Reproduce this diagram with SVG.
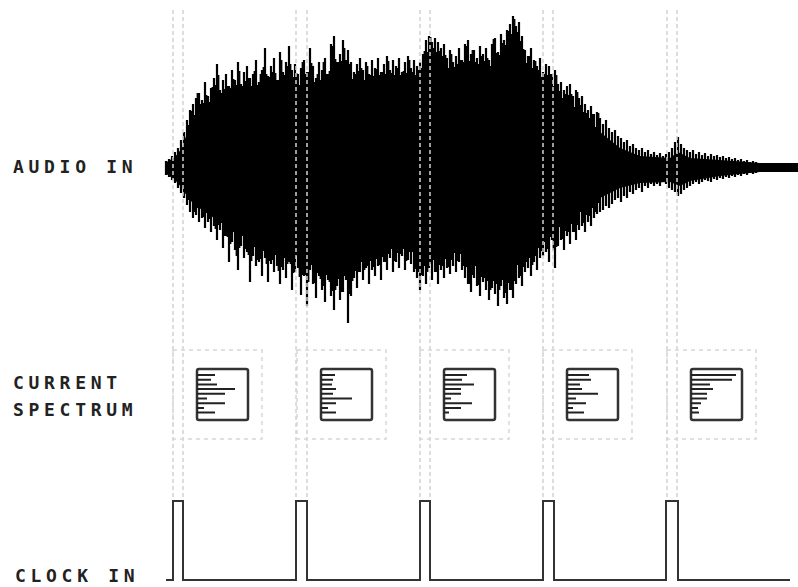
<svg xmlns="http://www.w3.org/2000/svg" width="798" height="587" viewBox="0 0 798 587">
<style>
.lbl{font-family:"DejaVu Sans Mono","Liberation Mono",monospace;font-weight:bold;font-size:18px;letter-spacing:4.7px;fill:#222}
.guide{stroke:#d2d2d2;stroke-width:1.5;stroke-dasharray:4 3;fill:none}
.dbox{stroke:#d8d8d8;stroke-width:1.5;stroke-dasharray:4 4;fill:none}
.sbox{stroke:#333;stroke-width:2.5;fill:#fff}
.bar{stroke:#222;stroke-width:2}
.spk{stroke:#000;stroke-width:2.2;fill:none}
.spk2{stroke:#000;stroke-width:1.8;fill:none}
</style>
<defs>
<rect id="sb" x="0" y="0" width="51" height="51" rx="2" class="sbox"/>
</defs>
<rect width="798" height="587" fill="#fff"/>
<g id="labels">
<text class="lbl" x="13" y="173">AUDIO IN</text>
<text class="lbl" x="13" y="389">CURRENT</text>
<text class="lbl" x="13" y="416">SPECTRUM</text>
<text class="lbl" x="15" y="582">CLOCK IN</text>
</g>
<g id="waveform">
<polygon fill="#000" points="165,163 175,157 182,148 188,130 195,115 205,105 220,100 240,98 260,95 280,90 300,92 320,95 340,88 360,88 380,90 400,88 420,85 430,70 445,70 460,78 480,72 500,68 515,55 525,68 540,88 560,108 580,118 600,132 620,148 640,156 670,158 678,152 690,158 720,160 760,163 798,163 798,172 760,172 720,176 690,181 680,186 670,182 640,183 620,188 600,198 580,210 560,225 540,240 520,252 500,258 480,256 460,250 440,252 420,248 400,242 380,246 360,252 340,258 320,255 300,250 280,246 260,240 240,232 220,222 205,212 195,205 188,198 182,188 175,180 165,173"/>
<path class="spk" d="M166 161V175M169 159V177M172 156V180M175 152V183M178 148V188M181 140V193M184 132V198M187 120V205M190 110V212M193 104V218M196 98V215M199 93V222M202 100V218M205 82V228M208 96V222M211 88V232M214 78V226M217 64V240M220 90V230M223 80V248M226 74V236M229 86V262M232 70V242M235 80V250M238 62V270M241 84V246M244 72V258M247 66V252M250 78V282M253 74V256M256 60V266M259 82V262M262 70V276M265 48V258M268 76V282M271 66V264M274 58V272M277 80V266M280 52V284M283 72V270M286 62V278M289 46V262M292 70V290M295 64V272M298 74V268M301 68V295M304 60V276M307 72V306M310 48V270M313 66V284M316 78V298M319 62V276M322 70V290M325 58V302M328 74V280M331 44V296M334 36V310M337 62V286M340 54V300M343 40V292M346 60V280M348 50V323M351 62V296M354 72V278M357 64V288M360 58V272M363 70V280M366 62V268M369 74V284M372 60V270M375 68V276M378 58V266M381 72V280M384 64V262M387 56V270M390 70V258M393 60V272M396 66V262M399 58V268M402 72V256M405 62V270M408 56V260M411 68V264M414 60V272M417 66V278M420 62V290M423 54V276M426 40V284M429 36V268M432 42V280M435 38V272M438 42V284M441 48V270M444 44V278M447 58V268M450 50V274M453 62V266M456 56V272M459 48V262M462 60V270M465 44V278M468 40V284M471 54V292M474 50V278M477 58V286M480 46V296M483 54V282M486 48V290M489 60V300M492 44V288M495 38V294M498 52V306M501 34V286M504 40V298M507 30V304M510 24V290M513 16V298M516 26V284M519 22V278M522 36V286M525 50V272M528 56V268M531 48V276M534 60V262M537 66V270M540 58V258M543 72V256M546 64V252M549 66V262M552 74V240M555 70V268M558 84V246M561 82V240M564 90V250M567 86V236M570 84V244M573 96V232M576 90V240M579 98V230M582 96V226M585 104V232M588 110V222M591 106V226M594 114V218M597 112V214M600 118V212M603 124V210M606 120V206M609 128V208M612 132V204M615 130V200M618 136V198M621 138V202M624 142V196M627 140V198M630 146V192M633 144V194M636 148V190M639 150V188M642 148V192M645 152V186M648 150V188M651 154V184M654 152V186M657 155V184M660 153V186M663 156V182M666 154V184M669 152V188M672 148V190M675 142V192M678 137V196M681 144V194M684 148V190M687 150V188M690 152V186M693 150V184M696 154V182M699 152V184M702 155V182M705 153V180M708 156V181M711 154V182M714 156V179M717 155V180M720 157V178M723 156V179M726 158V177M729 157V178M732 159V176M735 158V177M738 160V175M741 159V176M744 161V174M747 160V175M750 162V173M753 161V174M756 162V173M759 163V172"/>
<path class="spk2" d="M188.5 125V200M191.5 111V201M194.5 115V212M197.5 93V208M200.5 104V204M203.5 103V217M206.5 95V213M209.5 102V219M212.5 87V215M215.5 85V229M218.5 75V225M221.5 93V223M224.5 89V236M227.5 86V237M230.5 88V244M233.5 79V232M236.5 85V256M239.5 71V248M242.5 86V236M245.5 81V249M248.5 78V255M251.5 86V261M254.5 71V247M257.5 85V260M260.5 74V259M263.5 67V251M266.5 74V264M269.5 77V261M272.5 72V260M275.5 73V255M278.5 80V271M281.5 60V267M284.5 75V258M287.5 66V264M290.5 64V264M293.5 77V273M296.5 73V256M299.5 85V277M302.5 62V275M305.5 74V275M308.5 72V282M311.5 63V265M314.5 82V283M317.5 74V273M320.5 80V279M323.5 62V286M326.5 74V275M329.5 71V282M332.5 46V291M335.5 59V290M338.5 62V279M341.5 61V292M344.5 48V276M349.5 64V294M352.5 79V281M355.5 74V271M358.5 71V272M361.5 68V262M364.5 80V270M367.5 66V266M370.5 75V261M373.5 76V267M376.5 69V259M379.5 75V265M382.5 72V257M385.5 74V262M388.5 61V254M391.5 73V249M394.5 75V261M397.5 68V253M400.5 75V254M403.5 71V249M406.5 73V261M409.5 60V252M412.5 72V252M415.5 75V269M418.5 70V272M421.5 68V275M424.5 51V266M427.5 52V272M430.5 37V264M433.5 48V260M436.5 52V272M439.5 51V265M442.5 56V266M445.5 55V259M448.5 68V267M451.5 54V260M454.5 67V253M457.5 64V261M460.5 60V254M463.5 62V266M466.5 46V267M469.5 61V284M472.5 50V275M475.5 62V266M478.5 64V285M481.5 56V277M484.5 61V278M487.5 58V281M490.5 66V290M493.5 39V281M496.5 53V284M499.5 55V290M502.5 43V280M505.5 45V293M508.5 31V283M511.5 34V290M514.5 19V281M517.5 32V265M520.5 41V276M523.5 49V267M526.5 63V262M529.5 56V258M532.5 68V265M535.5 61V256M538.5 70V248M541.5 77V251M544.5 74V242M547.5 75V249M550.5 74V237M553.5 86V250M556.5 75V247M559.5 91V227M562.5 98V239M565.5 94V231M568.5 95V232M571.5 94V224M574.5 107V232M577.5 92V225M580.5 105V212M583.5 112V223M586.5 113V215M589.5 118V216M592.5 114V208M595.5 127V212M598.5 113V203"/>
</g>
<g id="guides">
<path class="guide" d="M173 10V500M183 10V500M296 10V500M307 10V500M420 10V500M430 10V500M543 10V500M553 10V500M667 10V500M677 10V500"/>
</g>
<g id="spectrum-1" transform="translate(197 369)">
<rect class="dbox" x="-24" y="-19" width="89" height="89"/>
<use href="#sb"/>
<path class="bar" d="M0 6H18M0 10.7H14M0 15.4H20M0 20.1H38M0 24.8H28M0 29.5H10M0 34.2H28M0 38.9H7M0 43.6H18"/>
</g>
<g id="spectrum-2" transform="translate(321 369)">
<rect class="dbox" x="-24" y="-19" width="89" height="89"/>
<use href="#sb"/>
<path class="bar" d="M0 6H14M0 10.7H12M0 15.4H11M0 20.1H15M0 24.8H12M0 29.5H31M0 34.2H15M0 38.9H7M0 43.6H15"/>
</g>
<g id="spectrum-3" transform="translate(444 369)">
<rect class="dbox" x="-24" y="-19" width="89" height="89"/>
<use href="#sb"/>
<path class="bar" d="M0 6H23M0 10.7H18M0 15.4H30M0 20.1H17M0 24.8H17M0 29.5H7M0 34.2H28M0 38.9H17M0 43.6H5"/>
</g>
<g id="spectrum-4" transform="translate(567 369)">
<rect class="dbox" x="-24" y="-19" width="89" height="89"/>
<use href="#sb"/>
<path class="bar" d="M0 6H22M0 10.7H24M0 15.4H13M0 20.1H15M0 24.8H31M0 29.5H9M0 34.2H19M0 38.9H6M0 43.6H17"/>
</g>
<g id="spectrum-5" transform="translate(691 369)">
<rect class="dbox" x="-24" y="-19" width="89" height="89"/>
<use href="#sb"/>
<path class="bar" d="M0 6H45M0 10.7H41M0 15.4H19M0 20.1H22M0 24.8H16M0 29.5H16M0 34.2H10M0 38.9H7M0 43.6H8"/>
</g>
<g id="clock">
<path d="M166 580H173V501H183V580H296V501H307V580H420V501H430V580H543V501H554V580H666V501H678V580H790" fill="none" stroke="#333" stroke-width="2"/>
</g>
</svg>
